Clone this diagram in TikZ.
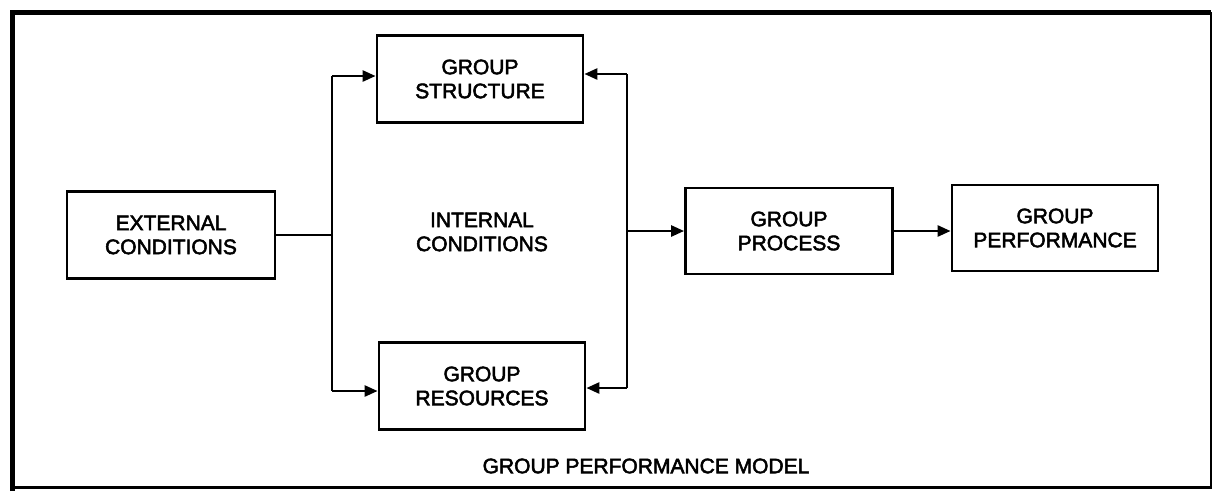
\documentclass[tikz,border=0pt]{standalone}
\usepackage{fontspec}
\setmainfont{Liberation Sans}[UprightFeatures={FakeBold=2.5}]
\usetikzlibrary{arrows.meta}
\begin{document}
\begin{tikzpicture}[x=1pt,y=-1pt,
  every node/.style={font=\fontsize{21}{24}\selectfont, align=center, inner sep=0pt},
  stagebox/.style={draw, line width=2.8pt, minimum width=206pt, minimum height=87pt},
  link/.style={line width=2.6pt},
  feed/.style={link, -{Triangle[length=13pt,width=11pt]}}]
  \useasboundingbox (0,0) rectangle (1214,491);

  % outer frame, heavier on the top and left edges
  \draw[line width=5pt] (12,491) -- (12,12) -- (1211,12);
  \draw[line width=2pt] (1211,12) -- (1211,487);
  \draw[line width=3pt] (10,487) -- (1212,487);

  % stages of the model
  \node[stagebox, minimum width=208pt] (ext) at (171,235) {EXTERNAL\\CONDITIONS};
  \node[stagebox] (struct) at (480,79) {GROUP\\STRUCTURE};
  \node[stagebox] (res) at (482,386) {GROUP\\RESOURCES};
  \node (int) at (482,232) {INTERNAL\\CONDITIONS};
  \node[stagebox, minimum width=207pt, minimum height=86pt] (proc) at (789,231) {GROUP\\PROCESS};
  \node[stagebox, minimum height=86pt] (perf) at (1055,228) {GROUP\\PERFORMANCE};
  \node (title) at (646,466) {GROUP PERFORMANCE MODEL};

  % bus junctions
  \coordinate (lt) at (332,76);
  \coordinate (lb) at (332,391);
  \coordinate (rt) at (627,74);
  \coordinate (rb) at (627,388);

  % external conditions feed both internal conditions
  \draw[link] (ext.east) -- (ext.east -| lt);
  \draw[link] (lt) -- (lb);
  \draw[feed] (lt) -- (lt -| struct.west);
  \draw[feed] (lb) -- (lb -| res.west);

  % internal conditions exchange with the process
  \draw[link] (rt) -- (rb);
  \draw[feed] (rt) -- (rt -| struct.east);
  \draw[feed] (rb) -- (rb -| res.east);
  \draw[feed] (proc.west -| rt) -- (proc.west);

  % process leads to performance
  \draw[feed] (proc.east) -- (proc.east -| perf.west);
\end{tikzpicture}
\end{document}
